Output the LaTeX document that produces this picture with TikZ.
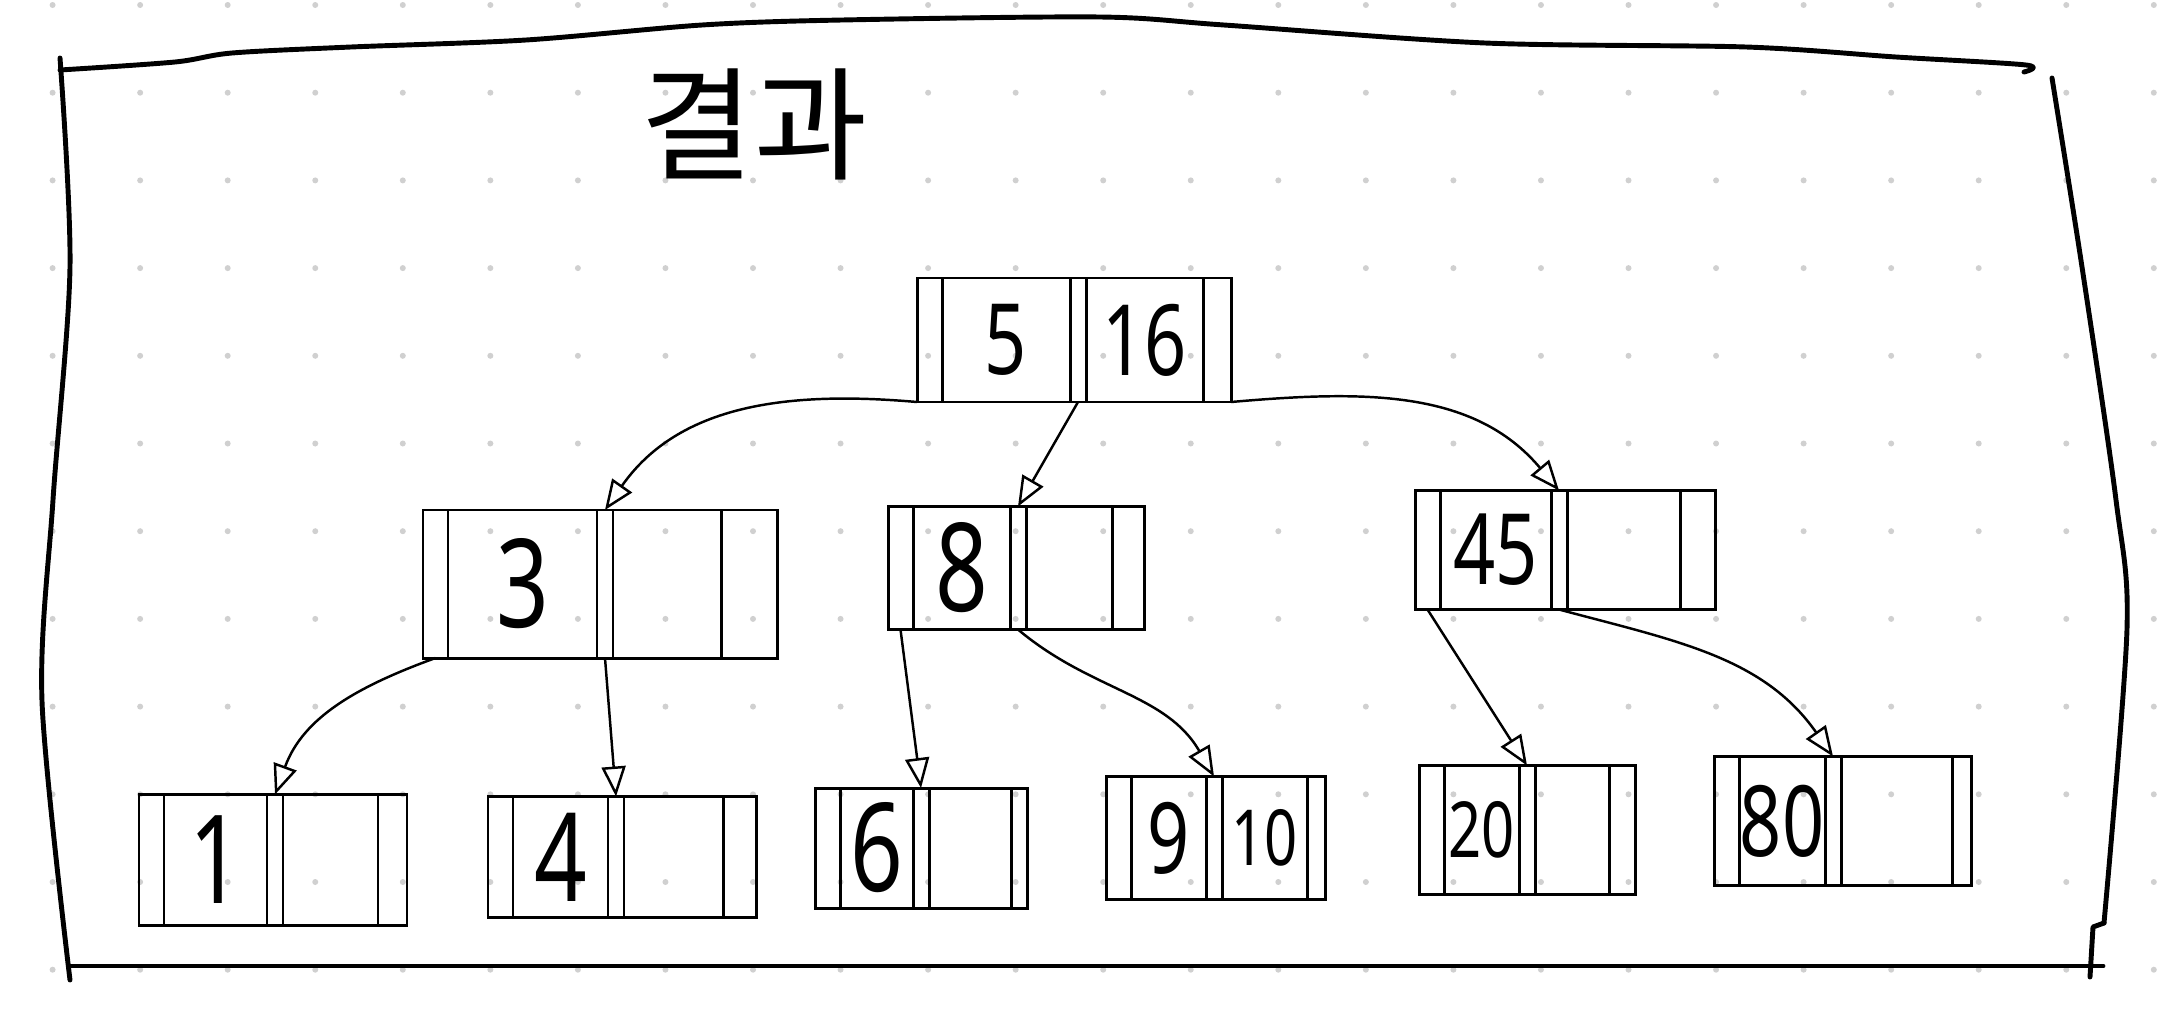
\documentclass[tikz,border=0pt]{standalone}
\usepackage{fontspec}
\setmainfont{Noto Sans}
\newfontfamily\krfont{Noto Sans CJK KR}
\usepackage{graphicx}
\usepackage{tikz}
\usetikzlibrary{arrows.meta, positioning}
\definecolor{dotgrey}{RGB}{208,208,208}
\tikzstyle{cell}=[draw, line width=0.85pt, inner sep=0pt, outer sep=0pt]
\tikzstyle{ptrcell}=[cell, minimum width=0.25cm]
\tikzstyle{keycell}=[cell]
\tikzstyle{boxframe}=[line width=1.4pt, line cap=round, line join=round]
\tikzstyle{arrow}=[draw=black, line width=0.7pt, -{Triangle[open, length=3mm, width=2.4mm]}]
\newcommand{\keybig}{\fontsize{35pt}{35pt}\selectfont}
\newcommand{\keymid}{\fontsize{28pt}{28pt}\selectfont}
\newcommand{\keysmall}{\fontsize{22pt}{22pt}\selectfont}
\newcommand{\hw}[1]{\scalebox{0.75}[1]{#1}}
% one b-tree node: name, west point, height, key widths, last pointer width, keys
\newcommand{\bnode}[8]{%
  \node[ptrcell, minimum height=#3cm, anchor=west] (#1-p0) at (#2) {};
  \node[keycell, minimum height=#3cm, minimum width=#4cm, right=0pt of #1-p0] (#1-k1) {\hw{#7}};
  \node[ptrcell, minimum height=#3cm, minimum width=0.16cm, right=0pt of #1-k1] (#1-p1) {};
  \node[keycell, minimum height=#3cm, minimum width=#5cm, right=0pt of #1-p1] (#1-k2) {\hw{#8}};
  \node[ptrcell, minimum height=#3cm, minimum width=#6cm, right=0pt of #1-k2] (#1-p2) {};
}

\begin{document}
\begin{tikzpicture}
	\useasboundingbox (0,0) rectangle (21.7,10.12);
	% dotted paper
	\foreach \i in {0,...,24}
		\foreach \j in {0,...,11}
			\fill[dotgrey] (0.526+0.8755*\i, 10.07-0.877*\j) circle (0.03);
	% frame
	\draw[boxframe] plot[smooth] coordinates {(0.60,9.42) (1.75,9.50) (2.32,9.59) (3.51,9.65) (5.26,9.72) (7.02,9.87) (8.42,9.92) (11.0,9.95) (12.24,9.87) (14.85,9.69) (17.46,9.65) (18.96,9.55) (20.26,9.47) (20.24,9.40)};
	\draw[boxframe] plot[smooth] coordinates {(0.60,9.54) (0.70,7.45) (0.53,5.12) (0.42,3.11) (0.70,0.32)};
	\draw[boxframe] plot[smooth] coordinates {(20.52,9.34) (20.82,7.45) (21.16,5.12) (21.27,3.83) (21.04,0.89)};
	\draw[boxframe] (21.04,0.89) -- (20.93,0.85) -- (20.90,0.35);
	\draw[boxframe] (0.70,0.46) -- (21.03,0.46);
	\node[font=\krfont\fontsize{35pt}{35pt}\selectfont] (title) at (7.54,8.88) {결과};

	\begin{scope}
		\bnode{r}{9.17,6.72}{1.24}{1.28}{1.17}{0.28}{\keymid 5}{\keymid 16}
		\bnode{n3}{4.23,4.28}{1.48}{1.49}{1.08}{0.56}{\keybig 3}{}
		\bnode{n8}{8.88,4.44}{1.23}{0.97}{0.86}{0.32}{\keybig 8}{}
		\bnode{n45}{14.15,4.62}{1.19}{1.11}{1.13}{0.35}{\keymid 45}{}
		\bnode{n1}{1.39,1.52}{1.31}{1.03}{0.95}{0.29}{\keybig 1}{}
		\bnode{n4}{4.88,1.55}{1.21}{0.95}{0.99}{0.33}{\keybig 4}{}
		\bnode{n6}{8.15,1.64}{1.20}{0.73}{0.82}{0.16}{\keybig 6}{}
		\bnode{n9}{11.06,1.74}{1.23}{0.75}{0.85}{0.18}{\keymid 9}{\keysmall 10}
		\bnode{n20}{14.19,1.82}{1.29}{0.75}{0.74}{0.26}{\keysmall 20}{}
		\bnode{n80}{17.14,1.91}{1.29}{0.86}{1.11}{0.19}{\keymid 80}{}
	\end{scope}
	\begin{scope}
		\path (r-p0.south west) edge[arrow, out=175, in=55] (n3-p1.north);
		\path (r-p1.south) edge[arrow] (n8-p1.north);
		\path (r-p2.south east) edge[arrow, out=5, in=130] (n45-p1.north);
		\path (n3-p0.south) edge[arrow, out=200, in=70] (n1-p1.north);
		\path (n3-p1.south) edge[arrow] (n4-p1.north);
		\path (n8-p0.south) edge[arrow] (n6-p1.north);
		\path (n8-p1.south) edge[arrow, out=-40, in=120] (n9-p1.north);
		\path (n45-p0.south) edge[arrow] (n20-p1.north);
		\path (n45-p1.south) edge[arrow, out=-15, in=125] (n80-p1.north);
	\end{scope}
\end{tikzpicture}
\end{document}
